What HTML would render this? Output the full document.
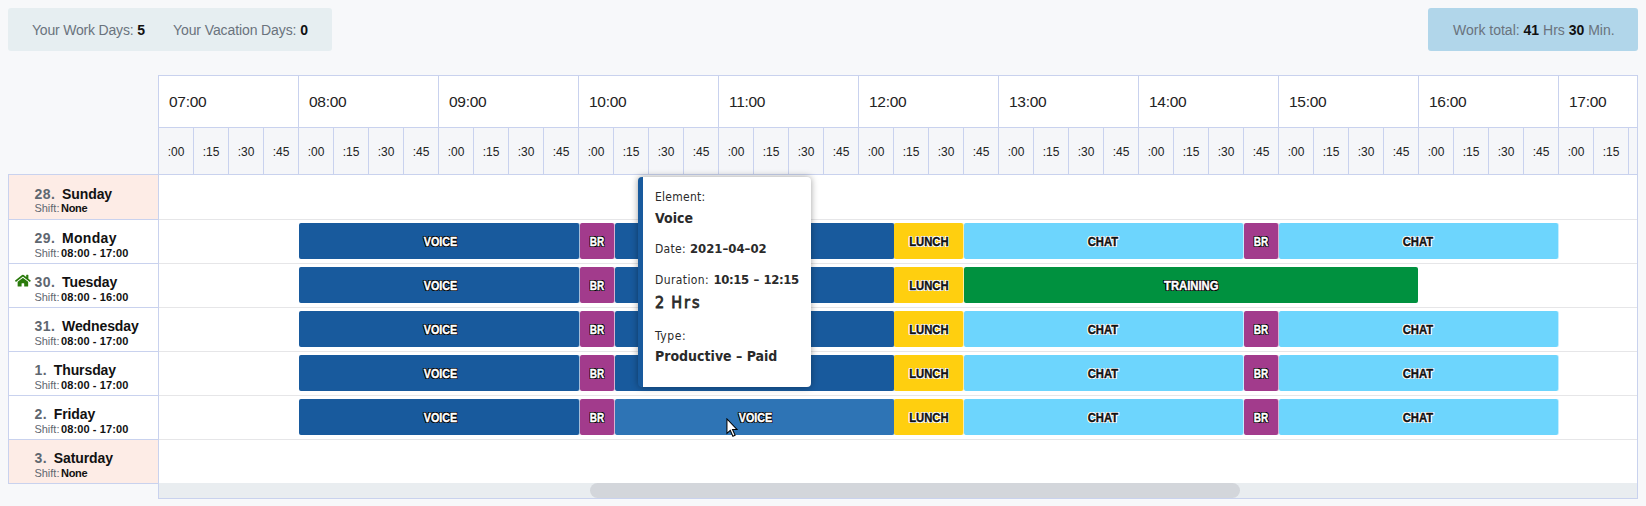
<!DOCTYPE html>
<html lang="en"><head><meta charset="utf-8"><title>Schedule</title>
<style>
html,body{margin:0;padding:0}
body{width:1646px;height:506px;overflow:hidden;background:#f7f8fa;font-family:"Liberation Sans",Arial,sans-serif;position:relative;color:#111}
.abs{position:absolute}
.info{position:absolute;top:8px;height:43px;border-radius:3px;line-height:45px;font-size:14px;color:#6a737d;white-space:nowrap}
.info b{color:#111;font-weight:bold}
#ileft{left:8px;width:324px;background:#e6eef1}
#iright{left:1428px;width:210px;background:#b1d6ea}
.hour{position:absolute;top:75px;height:52px;background:#fff;border-left:1px solid #c9d2ee;border-top:1px solid #c9d2ee;box-sizing:border-box;font-size:15.5px;letter-spacing:-.3px;line-height:52px;padding-left:10px;color:#222}
.q{position:absolute;top:127px;height:47px;background:#f5f6f9;border-left:1px solid #c9d2ee;border-top:1px solid #c9d2ee;box-sizing:border-box;font-size:12px;line-height:49px;text-align:center;color:#222;width:35px}
.day{position:absolute;left:8px;width:151px;box-sizing:border-box;border:1px solid #c9d2ee;border-bottom:none;background:#fff}
.day.we{background:#fdece6}
.day .n{position:absolute;left:25.4px;top:11px;font-size:14px;font-weight:bold;color:#5f6770;line-height:16px;white-space:nowrap}
.day .n{letter-spacing:.5px}
.day .n span{color:#111;margin-left:6.7px;letter-spacing:-.1px}
.day .s{position:absolute;left:25.4px;top:27px;word-spacing:-1.5px;font-size:11px;line-height:12px;color:#5f6770;white-space:nowrap}
.day .s b{color:#111;letter-spacing:.1px;word-spacing:0}
.day .s b.none{letter-spacing:-.3px}
.day.r .n{top:10px}
.day.r .s{top:27px}
.rowline{position:absolute;left:159px;width:1478px;height:1px;background:#e6e6e8}
.bar{position:absolute;height:36px;border-radius:2px;font-size:12.5px;font-weight:bold;text-align:center;line-height:39px;white-space:nowrap}
.bar span{display:inline-block;transform:scaleX(.9);-webkit-text-stroke:.4px currentColor}
.voice{background:#185a9d;box-shadow:1px 0 0 rgba(24,90,157,.4);color:#fff;text-shadow:-1px 0 0 #000,1px 0 0 #000,0 -1px 0 #000,0 1px 0 #000,1px 1px 0 #000,-1px -1px 0 #000,1px -1px 0 #000,-1px 1px 0 #000}
.voice.hov{background:#2e74b5;box-shadow:1px 0 0 rgba(46,116,181,.4)}
.br{background:#a23b8c;box-shadow:1px 0 0 rgba(162,59,140,.4);color:#fff;text-shadow:-1px 0 0 #000,1px 0 0 #000,0 -1px 0 #000,0 1px 0 #000,1px 1px 0 #000,-1px -1px 0 #000,1px -1px 0 #000,-1px 1px 0 #000}
.lunch{background:#ffcf0f;box-shadow:1px 0 0 rgba(255,207,15,.4);color:#111;text-shadow:-1px 0 0 #fff,1px 0 0 #fff,0 -1px 0 #fff,0 1px 0 #fff,1px 1px 0 #fff,-1px -1px 0 #fff,1px -1px 0 #fff,-1px 1px 0 #fff}
.chat{background:#6dd5fd;box-shadow:1px 0 0 rgba(109,213,253,.4);color:#111;text-shadow:-1px 0 0 #fff,1px 0 0 #fff,0 -1px 0 #fff,0 1px 0 #fff,1px 1px 0 #fff,-1px -1px 0 #fff,1px -1px 0 #fff,-1px 1px 0 #fff}
.train{background:#00913f;color:#fff;text-shadow:-1px 0 0 #000,1px 0 0 #000,0 -1px 0 #000,0 1px 0 #000,1px 1px 0 #000,-1px -1px 0 #000,1px -1px 0 #000,-1px 1px 0 #000}
#tip{position:absolute;left:638px;top:177px;width:173px;height:210px;box-sizing:border-box;background:#fff;border-left:5px solid #185a9d;border-radius:4px;box-shadow:0 0 7px rgba(0,0,0,.38);color:#2a2a2a}
#tip div{position:absolute;left:12px;white-space:nowrap;font-family:"DejaVu Sans Condensed","DejaVu Sans","Liberation Sans",sans-serif}
</style></head><body>

<div class="info" id="ileft"><span class="abs" style="left:24px;letter-spacing:-0.19px">Your Work Days: <b>5</b></span><span class="abs" style="left:165px;letter-spacing:-0.1px">Your Vacation Days: <b>0</b></span></div>
<div class="info" id="iright"><span class="abs" style="left:25px">Work total: <b>41</b> Hrs <b>30</b> Min.</span></div>
<div class="abs" style="left:158px;top:75px;width:1480px;height:424px;background:#fff;border:1px solid #c9d2ee;box-sizing:border-box"></div>
<div class="hour" style="left:158px;width:140px">07:00</div>
<div class="hour" style="left:298px;width:140px">08:00</div>
<div class="hour" style="left:438px;width:140px">09:00</div>
<div class="hour" style="left:578px;width:140px">10:00</div>
<div class="hour" style="left:718px;width:140px">11:00</div>
<div class="hour" style="left:858px;width:140px">12:00</div>
<div class="hour" style="left:998px;width:140px">13:00</div>
<div class="hour" style="left:1138px;width:140px">14:00</div>
<div class="hour" style="left:1278px;width:140px">15:00</div>
<div class="hour" style="left:1418px;width:140px">16:00</div>
<div class="hour" style="left:1558px;width:79px">17:00</div>
<div class="q" style="left:158px;width:35px">:00</div>
<div class="q" style="left:193px;width:35px">:15</div>
<div class="q" style="left:228px;width:35px">:30</div>
<div class="q" style="left:263px;width:35px">:45</div>
<div class="q" style="left:298px;width:35px">:00</div>
<div class="q" style="left:333px;width:35px">:15</div>
<div class="q" style="left:368px;width:35px">:30</div>
<div class="q" style="left:403px;width:35px">:45</div>
<div class="q" style="left:438px;width:35px">:00</div>
<div class="q" style="left:473px;width:35px">:15</div>
<div class="q" style="left:508px;width:35px">:30</div>
<div class="q" style="left:543px;width:35px">:45</div>
<div class="q" style="left:578px;width:35px">:00</div>
<div class="q" style="left:613px;width:35px">:15</div>
<div class="q" style="left:648px;width:35px">:30</div>
<div class="q" style="left:683px;width:35px">:45</div>
<div class="q" style="left:718px;width:35px">:00</div>
<div class="q" style="left:753px;width:35px">:15</div>
<div class="q" style="left:788px;width:35px">:30</div>
<div class="q" style="left:823px;width:35px">:45</div>
<div class="q" style="left:858px;width:35px">:00</div>
<div class="q" style="left:893px;width:35px">:15</div>
<div class="q" style="left:928px;width:35px">:30</div>
<div class="q" style="left:963px;width:35px">:45</div>
<div class="q" style="left:998px;width:35px">:00</div>
<div class="q" style="left:1033px;width:35px">:15</div>
<div class="q" style="left:1068px;width:35px">:30</div>
<div class="q" style="left:1103px;width:35px">:45</div>
<div class="q" style="left:1138px;width:35px">:00</div>
<div class="q" style="left:1173px;width:35px">:15</div>
<div class="q" style="left:1208px;width:35px">:30</div>
<div class="q" style="left:1243px;width:35px">:45</div>
<div class="q" style="left:1278px;width:35px">:00</div>
<div class="q" style="left:1313px;width:35px">:15</div>
<div class="q" style="left:1348px;width:35px">:30</div>
<div class="q" style="left:1383px;width:35px">:45</div>
<div class="q" style="left:1418px;width:35px">:00</div>
<div class="q" style="left:1453px;width:35px">:15</div>
<div class="q" style="left:1488px;width:35px">:30</div>
<div class="q" style="left:1523px;width:35px">:45</div>
<div class="q" style="left:1558px;width:35px">:00</div>
<div class="q" style="left:1593px;width:35px">:15</div>
<div class="q" style="left:1628px;width:9px"></div>
<div class="day we" style="top:174px;height:45px"><div class="n">28.<span>Sunday</span></div><div class="s">Shift: <b class="none">None</b></div></div>
<div class="rowline" style="top:174px"></div>
<div class="day r" style="top:219px;height:44px"><div class="n">29.<span style="letter-spacing:.3px">Monday</span></div><div class="s">Shift: <b>08:00 - 17:00</b></div></div>
<div class="rowline" style="top:219px"></div>
<div class="bar voice" style="left:299px;top:223px;width:280px"><span style="position:relative;left:1px;transform:scaleX(.86)">VOICE</span></div>
<div class="bar br" style="left:580px;top:223px;width:34px"><span style="transform:scaleX(.8)">BR</span></div>
<div class="bar voice" style="left:615px;top:223px;width:279px"><span style="position:relative;left:1px;transform:scaleX(.86)">VOICE</span></div>
<div class="bar lunch" style="left:894px;top:223px;width:69px"><span>LUNCH</span></div>
<div class="bar chat" style="left:964px;top:223px;width:279px"><span style="position:relative;left:-1px">CHAT</span></div>
<div class="bar br" style="left:1244px;top:223px;width:34px"><span style="transform:scaleX(.8)">BR</span></div>
<div class="bar chat" style="left:1279px;top:223px;width:279px"><span style="position:relative;left:-1px">CHAT</span></div>
<div class="day r" style="top:263px;height:44px"><div class="n">30.<span>Tuesday</span></div><div class="s">Shift: <b>08:00 - 16:00</b></div></div>
<div class="rowline" style="top:263px"></div>
<div class="bar voice" style="left:299px;top:267px;width:280px"><span style="position:relative;left:1px;transform:scaleX(.86)">VOICE</span></div>
<div class="bar br" style="left:580px;top:267px;width:34px"><span style="transform:scaleX(.8)">BR</span></div>
<div class="bar voice" style="left:615px;top:267px;width:279px"><span style="position:relative;left:1px;transform:scaleX(.86)">VOICE</span></div>
<div class="bar lunch" style="left:894px;top:267px;width:69px"><span>LUNCH</span></div>
<div class="bar train" style="left:964px;top:267px;width:454px"><span>TRAINING</span></div>
<div class="day r" style="top:307px;height:44px"><div class="n">31.<span>Wednesday</span></div><div class="s">Shift: <b>08:00 - 17:00</b></div></div>
<div class="rowline" style="top:307px"></div>
<div class="bar voice" style="left:299px;top:311px;width:280px"><span style="position:relative;left:1px;transform:scaleX(.86)">VOICE</span></div>
<div class="bar br" style="left:580px;top:311px;width:34px"><span style="transform:scaleX(.8)">BR</span></div>
<div class="bar voice" style="left:615px;top:311px;width:279px"><span style="position:relative;left:1px;transform:scaleX(.86)">VOICE</span></div>
<div class="bar lunch" style="left:894px;top:311px;width:69px"><span>LUNCH</span></div>
<div class="bar chat" style="left:964px;top:311px;width:279px"><span style="position:relative;left:-1px">CHAT</span></div>
<div class="bar br" style="left:1244px;top:311px;width:34px"><span style="transform:scaleX(.8)">BR</span></div>
<div class="bar chat" style="left:1279px;top:311px;width:279px"><span style="position:relative;left:-1px">CHAT</span></div>
<div class="day r" style="top:351px;height:44px"><div class="n">1.<span>Thursday</span></div><div class="s">Shift: <b>08:00 - 17:00</b></div></div>
<div class="rowline" style="top:351px"></div>
<div class="bar voice" style="left:299px;top:355px;width:280px"><span style="position:relative;left:1px;transform:scaleX(.86)">VOICE</span></div>
<div class="bar br" style="left:580px;top:355px;width:34px"><span style="transform:scaleX(.8)">BR</span></div>
<div class="bar voice" style="left:615px;top:355px;width:279px"><span style="position:relative;left:1px;transform:scaleX(.86)">VOICE</span></div>
<div class="bar lunch" style="left:894px;top:355px;width:69px"><span>LUNCH</span></div>
<div class="bar chat" style="left:964px;top:355px;width:279px"><span style="position:relative;left:-1px">CHAT</span></div>
<div class="bar br" style="left:1244px;top:355px;width:34px"><span style="transform:scaleX(.8)">BR</span></div>
<div class="bar chat" style="left:1279px;top:355px;width:279px"><span style="position:relative;left:-1px">CHAT</span></div>
<div class="day r" style="top:395px;height:44px"><div class="n">2.<span>Friday</span></div><div class="s">Shift: <b>08:00 - 17:00</b></div></div>
<div class="rowline" style="top:395px"></div>
<div class="bar voice" style="left:299px;top:399px;width:280px"><span style="position:relative;left:1px;transform:scaleX(.86)">VOICE</span></div>
<div class="bar br" style="left:580px;top:399px;width:34px"><span style="transform:scaleX(.8)">BR</span></div>
<div class="bar voice hov" style="left:615px;top:399px;width:279px"><span style="position:relative;left:1px;transform:scaleX(.86)">VOICE</span></div>
<div class="bar lunch" style="left:894px;top:399px;width:69px"><span>LUNCH</span></div>
<div class="bar chat" style="left:964px;top:399px;width:279px"><span style="position:relative;left:-1px">CHAT</span></div>
<div class="bar br" style="left:1244px;top:399px;width:34px"><span style="transform:scaleX(.8)">BR</span></div>
<div class="bar chat" style="left:1279px;top:399px;width:279px"><span style="position:relative;left:-1px">CHAT</span></div>
<div class="day we r" style="top:439px;height:44px"><div class="n">3.<span>Saturday</span></div><div class="s">Shift: <b class="none">None</b></div></div>
<div class="rowline" style="top:439px"></div>
<div class="abs" style="left:8px;top:483px;width:151px;height:1px;background:#c9d2ee"></div>
<div class="abs" style="left:158px;top:174px;width:1480px;height:1px;background:#c9d2ee"></div>
<div class="abs" style="left:159px;top:483px;width:1478px;height:15px;background:#e9edf0"></div>
<div class="abs" style="left:590px;top:483px;width:650px;height:15px;background:#d3d6db;border-radius:8px"></div>
<svg class="abs" style="left:15.4px;top:274px" width="15.8" height="13.4" preserveAspectRatio="none" viewBox="0 0 576 512"><path fill="#2a7a0b" d="M280.37 148.26L96 300.11V464a16 16 0 0 0 16 16l112.06-.29a16 16 0 0 0 15.92-16V368a16 16 0 0 1 16-16h64a16 16 0 0 1 16 16v95.64a16 16 0 0 0 16 16.05L464 480a16 16 0 0 0 16-16V300L295.67 148.26a12.19 12.19 0 0 0-15.3 0zM571.6 251.47L488 182.56V44.05a12 12 0 0 0-12-12h-56a12 12 0 0 0-12 12v72.61L318.47 43a48 48 0 0 0-61 0L4.34 251.47a12 12 0 0 0-1.6 16.9l25.5 31A12 12 0 0 0 45.15 301l235.22-193.74a12.19 12.19 0 0 1 15.3 0L530.9 301a12 12 0 0 0 16.9-1.6l25.5-31a12 12 0 0 0-1.7-16.93z"/></svg>
<div id="tip">
<div style="top:12px;font-size:12px;line-height:16px;letter-spacing:.25px">Element:</div>
<div style="top:32px;font-size:14px;font-weight:bold;line-height:18px">Voice</div>
<div style="top:64px;font-size:12px;line-height:16px;word-spacing:.5px"><span style="letter-spacing:.3px">Date:</span> <b style="font-size:13px">2021–04–02</b></div>
<div style="top:95px;font-size:12px;line-height:16px;word-spacing:1px"><span style="letter-spacing:.4px">Duration:</span> <b style="font-size:13px;letter-spacing:-.4px">10:15 – 12:15</b></div>
<div style="top:115px;font-size:16px;font-weight:normal;-webkit-text-stroke:.8px #2a2a2a;line-height:22px;letter-spacing:2px;word-spacing:-1.5px">2 Hrs</div>
<div style="top:151px;font-size:12px;line-height:16px;letter-spacing:.6px">Type:</div>
<div style="top:170px;font-size:14px;font-weight:bold;line-height:18px">Productive – Paid</div>
</div>
<svg class="abs" style="left:725.5px;top:418px" width="12.1" height="19.5" viewBox="0 0 13 21"><path d="M1 1 L1 16.5 L4.6 13.2 L7.4 19.6 L9.8 18.5 L7 12.3 L11.8 12.3 Z" fill="#fff" stroke="#000" stroke-width="1.1" stroke-linejoin="miter"/></svg>
</body></html>
